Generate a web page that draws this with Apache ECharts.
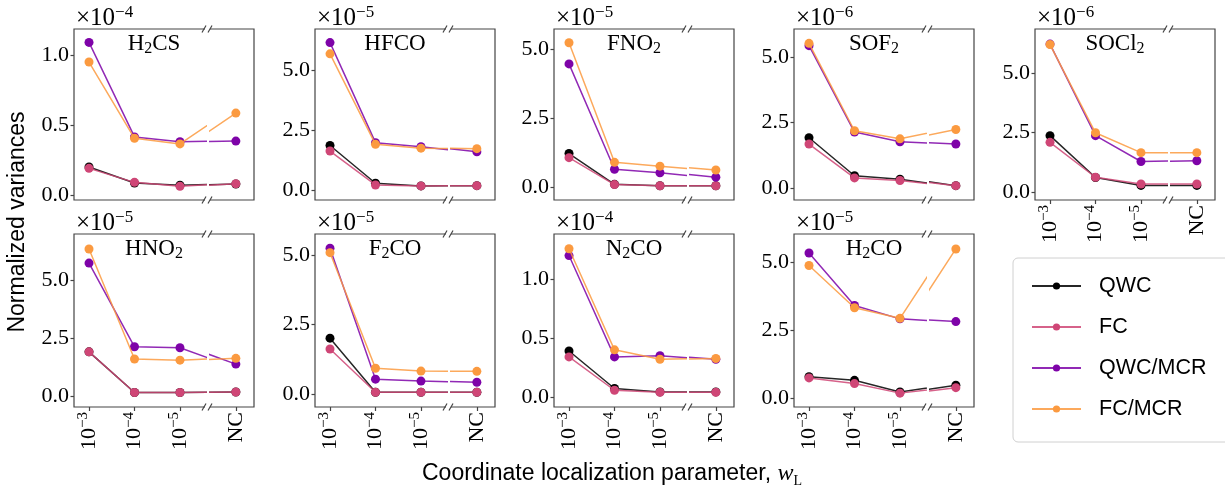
<!DOCTYPE html>
<html><head><meta charset="utf-8">
<script src="https://cdn.jsdelivr.net/npm/echarts@6/dist/echarts.min.js"></script>
<style>html,body{margin:0;padding:0;background:#fff}#c{width:1225px;height:487px}</style>
</head><body><div id="c"></div>
<script>
// ---------------- data ----------------
const molecules = ['H2CS','HFCO','FNO2','SOF2','SOCl2','HNO2','F2CO','N2CO','H2CO'];
const exponents = [-4,-5,-5,-6,-6,-5,-5,-4,-5];          // values below are in units of 10^exponent
const methods = ['QWC','FC','QWC/MCR','FC/MCR'];
const xTickLabels = ['10{sup|−3}','10{sup|−4}','10{sup|−5}','NC'];
const QWC = [
  [0.20, 0.085, 0.07, 0.078],
  [1.86, 0.28, 0.17, 0.18],
  [1.21, 0.09, 0.04, 0.04],
  [1.92, 0.46, 0.33, 0.08],
  [2.37, 0.62, 0.29, 0.29],
  [1.91, 0.15, 0.15, 0.17],
  [2.01, 0.07, 0.07, 0.07],
  [0.39, 0.072, 0.043, 0.043],
  [0.78, 0.65, 0.22, 0.47]
];
const FC = [
  [0.19, 0.09, 0.062, 0.08],
  [1.63, 0.21, 0.17, 0.18],
  [1.06, 0.08, 0.04, 0.04],
  [1.68, 0.38, 0.28, 0.08],
  [2.09, 0.63, 0.35, 0.35],
  [1.91, 0.15, 0.15, 0.17],
  [1.62, 0.07, 0.07, 0.07],
  [0.34, 0.057, 0.04, 0.04],
  [0.74, 0.53, 0.18, 0.38]
];
const QWC_MCR = [
  [1.09, 0.415, 0.38, 0.385],
  [6.17, 1.98, 1.81, 1.60],
  [4.47, 0.64, 0.51, 0.35],
  [5.46, 2.14, 1.77, 1.68],
  [6.20, 2.37, 1.29, 1.32],
  [5.76, 2.13, 2.09, 1.38],
  [5.24, 0.54, 0.47, 0.43],
  [1.20, 0.34, 0.35, 0.32],
  [5.33, 3.40, 2.91, 2.81]
];
const FC_MCR = [
  [0.95, 0.405, 0.365, 0.585],
  [5.70, 1.91, 1.75, 1.73],
  [5.24, 0.89, 0.75, 0.61],
  [5.55, 2.19, 1.88, 2.24],
  [6.18, 2.49, 1.66, 1.66],
  [6.37, 1.60, 1.55, 1.63],
  [5.08, 0.93, 0.83, 0.82],
  [1.258, 0.40, 0.32, 0.327],
  [4.87, 3.32, 2.93, 5.48]
];
const yTicks = [
  [0, 0.5, 1.0], [0, 2.5, 5.0], [0, 2.5, 5.0], [0, 2.5, 5.0], [0, 2.5, 5.0],
  [0, 2.5, 5.0], [0, 2.5, 5.0], [0, 0.5, 1.0], [0, 2.5, 5.0]
];
// ---------------- layout / style ----------------
const yLimits = [
  [-0.036, 1.186], [-0.42, 6.74], [-0.48, 5.74], [-0.47, 6.10], [-0.32, 6.83],
  [-0.48, 7.02], [-0.46, 5.75], [-0.085, 1.383], [-0.33, 6.03]
];
const colors = ['#000000', '#cf4676', '#7e03a8', '#fb9a40'];
const colLefts = [74, 315, 554, 794, 1035];
const rowTops = [29, 234];
const rowBottoms = [200, 407];
const plotW = 180, segA = 131, gap = 5;
const serif = 'Liberation Serif', sans = 'Liberation Sans';
const frameColor = '#444';
const allData = [QWC, FC, QWC_MCR, FC_MCR];

const grids = [], xAxes = [], yAxes = [], series = [], graphics = [];
const supRich = { sup: { fontSize: 15, lineHeight: 15, verticalAlign: 'top', fontFamily: serif, color: '#000' } };

molecules.forEach((name, i) => {
  const r = i < 5 ? 0 : 1, c = i < 5 ? i : i - 5;
  const L = colLefts[c], T = rowTops[r], B = rowBottoms[r], H = B - T;
  const Ar = L + segA, Bl = L + segA + gap, R = L + plotW;
  const showX = (r === 1 || c === 4);
  const gA = 2 * i, gB = 2 * i + 1;
  grids.push({ left: L, top: T, width: segA, height: H });
  grids.push({ left: Bl, top: T, width: R - Bl, height: H });
  const xLabel = (vals) => ({
    show: showX, customValues: vals, rotate: 90, margin: 5,
    fontFamily: serif, fontSize: 22, lineHeight: 26, color: '#000',
    formatter: v => xTickLabels[Math.round(v)], rich: supRich
  });
  xAxes.push({ gridIndex: gA, type: 'value', position: 'bottom', min: -0.33, max: 2.55,
    axisLine: { show: false, onZero: false }, splitLine: { show: false },
    axisTick: { show: showX, customValues: [0, 1, 2], length: 4, lineStyle: { color: frameColor, width: 1.2 } },
    axisLabel: xLabel([0, 1, 2]) });
  xAxes.push({ gridIndex: gB, type: 'value', position: 'bottom', min: 2.43, max: 3.4,
    axisLine: { show: false, onZero: false }, splitLine: { show: false },
    axisTick: { show: showX, customValues: [3], length: 4, lineStyle: { color: frameColor, width: 1.2 } },
    axisLabel: xLabel([3]) });
  const [ymin, ymax] = yLimits[i];
  yAxes.push({ gridIndex: gA, type: 'value', position: 'left', min: ymin, max: ymax,
    axisLine: { show: false, onZero: false }, splitLine: { show: false },
    axisTick: { show: true, customValues: yTicks[i], length: 3.5, lineStyle: { color: frameColor, width: 1.2 } },
    axisLabel: { customValues: yTicks[i], margin: 5, fontFamily: serif, fontSize: 22, color: '#000',
      formatter: v => v.toFixed(1) } });
  yAxes.push({ gridIndex: gB, type: 'value', min: ymin, max: ymax, show: false,
    axisLine: { onZero: false } });

  allData.forEach((tbl, k) => {
    [gA, gB].forEach(g => {
      series.push({
        type: 'line', name: methods[k], xAxisIndex: g, yAxisIndex: g,
        data: tbl[i].map((v, j) => [j, v]),
        symbol: 'circle', symbolSize: 9, clip: true, silent: true, z: 2 + k,
        itemStyle: { color: colors[k] },
        lineStyle: { color: colors[k], width: 1.5, opacity: 0.85 }
      });
    });
  });

  // frame (broken axis)
  graphics.push({ type: 'polyline', silent: true, z: 50,
    shape: { points: [[Ar, T], [L, T], [L, B], [Ar, B]] },
    style: { stroke: frameColor, lineWidth: 1.2, fill: null } });
  graphics.push({ type: 'polyline', silent: true, z: 50,
    shape: { points: [[Bl, T], [R, T], [R, B], [Bl, B]] },
    style: { stroke: frameColor, lineWidth: 1.2, fill: null } });
  [Ar - 1, Bl].forEach(cx => [T, B].forEach(cy => {
    graphics.push({ type: 'line', silent: true, z: 51,
      shape: { x1: cx - 2, y1: cy + 3.5, x2: cx + 2, y2: cy - 3.5 },
      style: { stroke: frameColor, lineWidth: 1.2 } });
  }));
  // scale multiplier
  graphics.push({ type: 'text', silent: true, z: 52, x: L + 2, y: T - 11,
    style: { text: '×10{sup|−' + Math.abs(exponents[i]) + '}', fontFamily: serif, fontSize: 25, lineHeight: 28,
      fill: '#000', align: 'left', verticalAlign: 'middle',
      rich: { sup: { fontSize: 17, lineHeight: 17, verticalAlign: 'top', fontFamily: serif, color: '#000' } } } });
  // molecule label
  graphics.push({ type: 'text', silent: true, z: 52, x: L + 80, y: T + 15,
    style: { text: name.replace(/(\d)/g, '{sub|$1}'), fontFamily: serif, fontSize: 23, lineHeight: 26,
      fill: '#000', align: 'center', verticalAlign: 'middle',
      rich: { sub: { fontSize: 16, lineHeight: 16, verticalAlign: 'bottom', fontFamily: serif, color: '#000' } } } });
});

// axis titles
graphics.push({ type: 'text', silent: true, x: 18, y: 222, rotation: Math.PI / 2,
  style: { text: 'Normalized variances', fontFamily: sans, fontSize: 23, fill: '#000',
    align: 'center', verticalAlign: 'middle' } });
graphics.push({ type: 'text', silent: true, x: 612, y: 474,
  style: { text: 'Coordinate localization parameter, {w|w}{L|L}', fontFamily: sans, fontSize: 23, lineHeight: 28,
    fill: '#000', align: 'center', verticalAlign: 'middle',
    rich: { w: { fontFamily: serif, fontStyle: 'italic', fontSize: 24, color: '#000' },
            L: { fontFamily: serif, fontSize: 14, lineHeight: 14, verticalAlign: 'bottom', color: '#000' } } } });

const chart = echarts.init(document.getElementById('c'), null, { renderer: 'canvas' });
chart.setOption({
  animation: false,
  backgroundColor: '#fff',
  grid: grids, xAxis: xAxes, yAxis: yAxes, series: series,
  legend: {
    orient: 'vertical', left: 1013, top: 258, data: methods, selectedMode: false,
    padding: [17, 40, 22, 18], itemWidth: 49, itemHeight: 9, itemGap: 19,
    textStyle: { fontFamily: sans, fontSize: 21.5, lineHeight: 22, color: '#000', padding: [0, 0, 0, 13] },
    borderColor: '#d0d0d0', borderWidth: 1, borderRadius: 5, backgroundColor: '#fff'
  },
  graphic: graphics
});
</script></body></html>
